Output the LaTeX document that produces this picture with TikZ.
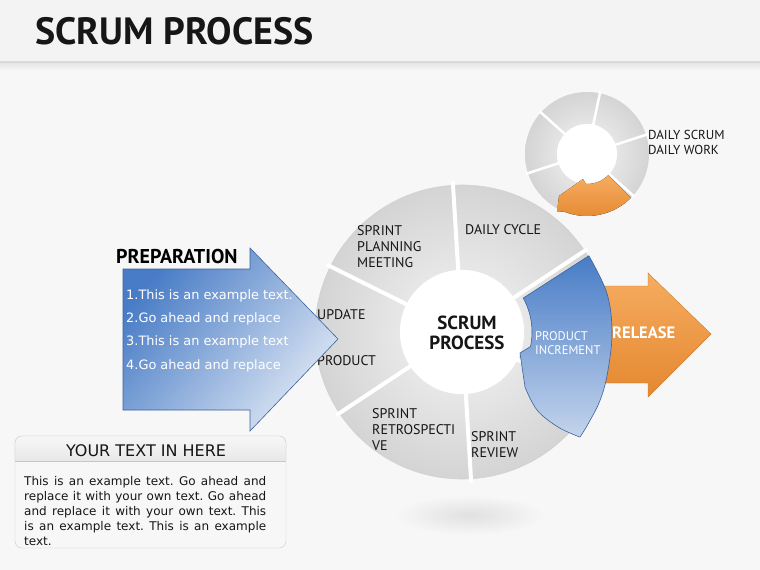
\documentclass[tikz,border=0pt]{standalone}
\usepackage{fontspec}
\setmainfont{PT Sans}
\newfontfamily\lucida{DejaVu Sans}
\usepackage{tikz}
\usetikzlibrary{positioning}
\definecolor{PageBg}{RGB}{247,247,247}
\definecolor{HeadBg}{RGB}{243,243,243}
\definecolor{ScrumBlue}{RGB}{72,124,198}
\definecolor{ScrumLightBlue}{RGB}{196,212,236}
\definecolor{ScrumEdge}{RGB}{60,98,156}
\definecolor{PrepLight}{RGB}{222,231,244}
\definecolor{ScrumOrange}{RGB}{228,136,48}
\definecolor{ScrumLightOrange}{RGB}{246,172,96}
\definecolor{RingLight}{RGB}{245,245,245}
\definecolor{RingDark}{RGB}{212,212,212}
\definecolor{LabelInk}{RGB}{22,22,22}

\begin{document}
\begin{tikzpicture}[x=1pt, y=-1pt,
    label/.style={inner sep=0pt, align=left, text=LabelInk, font=\fontsize{14}{16}\selectfont},
    whitelabel/.style={inner sep=0pt, align=left, text=white, font=\fontsize{12.5}{14}\selectfont},
    listitem/.style={inner sep=0pt, anchor=base west, text=white, font=\lucida\fontsize{12.9}{15}\selectfont},
    gap/.style={draw=white, line width=4pt},
    ring/.style={even odd rule, inner color=RingLight, outer color=RingDark},
]
% page and header
\fill[PageBg] (0,0) rectangle (760,570);
\useasboundingbox (0,0) rectangle (760,570);
\fill[HeadBg] (0,0) rectangle (760,62);
\shade[top color=gray!22, bottom color=PageBg] (0,62) rectangle (760,70);
\draw[gray!30, line width=1.5pt] (0,62) -- (760,62);
\node[anchor=base west, inner sep=0pt, text=LabelInk, font=\bfseries\fontsize{38}{40}\selectfont] (title) at (35,44) {SCRUM PROCESS};

% shadow under the big ring
\shade[inner color=gray!24, outer color=PageBg] (470,515) ellipse[x radius=75, y radius=20];

% big ring
\begin{scope}[shift={(462,332)}]
  \shade[ring] (0,0) circle[radius=147] (0,0) circle[radius=62];
  \draw[gray!35, line width=0.6pt] (0,0) circle[radius=147];
  \fill[white] (0,0) circle[radius=62];
  \foreach \a in {26.5,86.5,...,326.5}
    \draw[gap] (\a:58) -- (\a:151);
\end{scope}

% release arrow
\draw[draw=ScrumOrange!90!black, line width=0.4pt, top color=ScrumLightOrange, bottom color=ScrumOrange]
  (598,286) -- (648,286) -- (648,273) -- (711,334) -- (648,397) -- (648,383) -- (598,383) -- cycle;
\node[inner sep=0pt, anchor=west, text=white, font=\bfseries\fontsize{16.5}{18}\selectfont] (release) at (612,333) {RELEASE};

% product increment arrow
\begin{scope}[shift={(462,332)}]
  \path[draw=ScrumEdge, line width=0.6pt, top color=ScrumBlue, bottom color=ScrumLightBlue]
    plot[smooth, tension=0.6] coordinates {(-31:148) (-15:150) (0:150) (15:151) (26:154) (36:156) (41.7:158)}
    -- plot[smooth, tension=0.6] coordinates {(41.7:158) (96,95) (75,78) (63,55)}
    -- (58,21) -- (12:70) arc[start angle=12, end angle=-29, radius=70] -- cycle;
\end{scope}

% ring labels
\node[label, anchor=north west] (planning) at (357,225) {SPRINT\\PLANNING\\MEETING};
\node[label, anchor=west] (daily) at (465,230) {DAILY CYCLE};
\node[label, anchor=west] (update) at (317,315) {UPDATE};
\node[label, anchor=west] (product) at (317,361) {PRODUCT};
\node[label, anchor=north west] (retro) at (372,408) {SPRINT\\RETROSPECTI\\VE};
\node[label, anchor=north west] (review) at (471,431) {SPRINT\\REVIEW};
\node[label, align=center, font=\bfseries\fontsize{19}{20}\selectfont] (scrum) at (467,333) {SCRUM\\PROCESS};
\node[whitelabel, anchor=north west] (increment) at (535,331) {PRODUCT\\INCREMENT};

% preparation arrow
\draw[draw=ScrumEdge, line width=0.6pt, top color=ScrumBlue, bottom color=PrepLight, shading angle=50]
  (123,269) -- (250,269) -- (250,248) -- (338,339) -- (250,431) -- (250,410) -- (123,410) -- cycle;
\node[inner sep=0pt, anchor=west, text=black, font=\bfseries\fontsize{20}{22}\selectfont] (prep) at (116,256) {PREPARATION};
\foreach \y/\txt [count=\i] in {299/This is an example text., 322/Go ahead and replace, 345/This is an example text, 369/Go ahead and replace}
  \node[listitem] (item\i) at (126,\y) {\i.\txt};

% small ring
\begin{scope}[shift={(587,154)}]
  \shade[ring] (0,0) circle[radius=62] (0,0) circle[radius=30];
  \fill[white] (0,0) circle[radius=30];
  \foreach \a in {42,102,...,342}
    \draw[gap, line width=2.5pt] (\a:28) -- (\a:64);
  \fill[top color=ScrumLightOrange, bottom color=ScrumOrange]
    (45:62) arc[start angle=45, end angle=112, radius=62] -- (-30,58) -- (-28,42) -- (-4,25)
    -- (92:30) arc[start angle=92, end angle=45, radius=30] -- cycle;
\end{scope}
\node[label, anchor=north west, font=\fontsize{13}{15}\selectfont] (scrumwork) at (648,130) {DAILY SCRUM\\DAILY WORK};

% text box
\draw[gray!40, fill=gray!6, rounded corners=7pt] (15,436) rectangle (286,548);
\begin{scope}
  \clip (15,436) rectangle (286,461);
  \shade[top color=gray!6, bottom color=gray!28, rounded corners=7pt] (15,436) rectangle (286,480);
\end{scope}
\draw[gray!40, rounded corners=7pt] (15,461) -- (15,436) -- (286,436) -- (286,461);
\draw[gray!45] (15,461) -- (286,461);
\node[inner sep=0pt, text=LabelInk, font=\lucida\fontsize{16}{18}\selectfont] (boxhead) at (146,451) {YOUR TEXT IN HERE};
\node[inner sep=0pt, anchor=north west, text width=242pt, align=justify, text=LabelInk,
      font=\lucida\fontsize{12}{15}\selectfont] (boxtext) at (24,476)
  {\frenchspacing\hyphenpenalty=10000 This is an example text. Go ahead and\linebreak
   replace it with your own text. Go ahead\linebreak
   and replace it with your own text. This\linebreak
   is an example text. This is an example\linebreak
   text.};
\end{tikzpicture}
\end{document}
